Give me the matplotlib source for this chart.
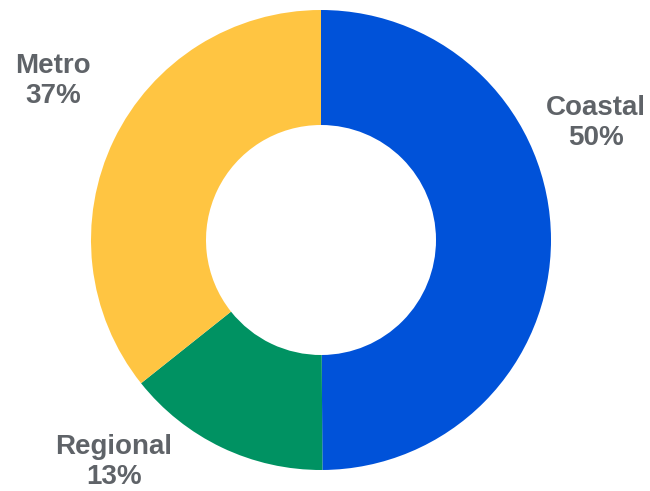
import matplotlib
matplotlib.use("Agg")
import matplotlib.pyplot as plt

# shares, labels as printed on the chart
regions = ["Coastal", "Regional", "Metro"]
shares = [49.9, 14.4, 35.7]
pct_labels = ["50%", "13%", "37%"]
colors = ["#0052D9", "#009262", "#FFC542"]

# label anchor points (data units, radius = 1)
label_pos = [(1.196, 0.51), (-0.9, -0.965), (-1.165, 0.69)]

plt.rcParams['font.family'] = ['Liberation Sans', 'DejaVu Sans']

fig = plt.figure(figsize=(6.5, 4.91), dpi=100)
ax = fig.add_axes([0, 0, 1, 1])

ax.pie(shares, colors=colors, startangle=90, counterclock=False,
       radius=1.0, wedgeprops=dict(width=0.5, linewidth=0))

for name, pct, (x, y) in zip(regions, pct_labels, label_pos):
    ax.text(x, y, name + "\n" + pct, ha='center', va='center',
            fontsize=20, fontweight='bold', color='#5F6368',
            linespacing=1.2)

ax.set_aspect('auto')
ax.set_xlim(-321 / 230, (650 - 321) / 230)
ax.set_ylim(-251 / 230, 240 / 230)
ax.axis('off')

fig.savefig("out.png", dpi=100)
